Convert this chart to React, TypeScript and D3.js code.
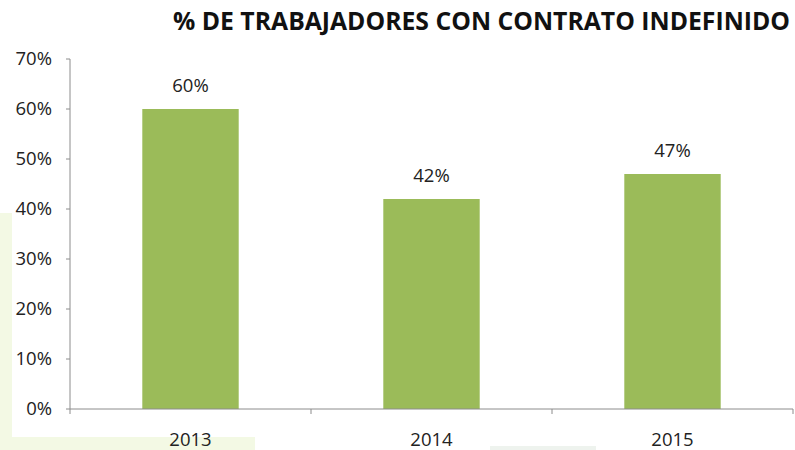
import React from 'react';
import * as d3 from 'd3';

const years = ['2013', '2014', '2015'];
const shares = [60, 42, 47];
const yTicks = [0, 10, 20, 30, 40, 50, 60, 70];
const title = '% DE TRABAJADORES CON CONTRATO INDEFINIDO';

export default function App() {
  const width = 795;
  const height = 450;
  const left = 70;
  const right = 793;
  const top = 59;
  const bottom = 409;

  const x = d3.scaleBand().domain(years).range([left, right]).padding(0);
  const y = d3.scaleLinear().domain([0, 70]).range([bottom, top]);
  const barW = x.bandwidth() * 0.4;
  const font = '"Open Sans", "Liberation Sans", sans-serif';
  const axisColor = '#8c8c8c';

  // category edges for the x ticks
  const edges = years.map((c) => x(c) as number).concat([right]);

  return (
    <svg
      width={width}
      height={height}
      style={{ position: 'absolute', left: 0, top: 0, background: '#fff' }}
      fontFamily={font}
    >
      {/* faint slide background showing around the chart */}
      <rect x={0} y={213} width={255} height={237} fill="#f3f9e4" />
      <rect x={12} y={0} width={width - 12} height={437} fill="#fff" />
      <rect x={490} y={446} width={106} height={4} fill="#eef3ee" />

      <text
        x={790}
        y={30}
        textAnchor="end"
        fontSize={25}
        fontWeight={700}
        fill="#111"
        textLength={617}
        lengthAdjust="spacingAndGlyphs"
      >
        {title}
      </text>

      {/* y axis */}
      <line x1={left} x2={left} y1={top} y2={bottom} stroke={axisColor} />
      {yTicks.map((t) => (
        <g key={t}>
          <line x1={left - 4} x2={left} y1={y(t)} y2={y(t)} stroke={axisColor} />
          <text
            x={52}
            y={y(t)}
            dy="0.35em"
            textAnchor="end"
            fontSize={18.5}
            fill="#222"
          >
            {`${t}%`}
          </text>
        </g>
      ))}

      {/* bars */}
      {years.map((c, i) => {
        const cx = (x(c) as number) + x.bandwidth() / 2;
        return (
          <g key={c}>
            <rect
              x={cx - barW / 2}
              y={y(shares[i])}
              width={barW}
              height={bottom - y(shares[i])}
              fill="#9bbb59"
            />
            <text
              x={cx}
              y={y(shares[i]) - 17}
              textAnchor="middle"
              fontSize={18.5}
              fill="#222"
            >
              {`${shares[i]}%`}
            </text>
            <text x={cx} y={446} textAnchor="middle" fontSize={18.5} fill="#222">
              {c}
            </text>
          </g>
        );
      })}

      {/* x axis */}
      <line x1={left} x2={right} y1={bottom} y2={bottom} stroke={axisColor} />
      {edges.map((e, i) => (
        <line key={i} x1={e} x2={e} y1={bottom} y2={bottom + 5} stroke={axisColor} />
      ))}
    </svg>
  );
}
